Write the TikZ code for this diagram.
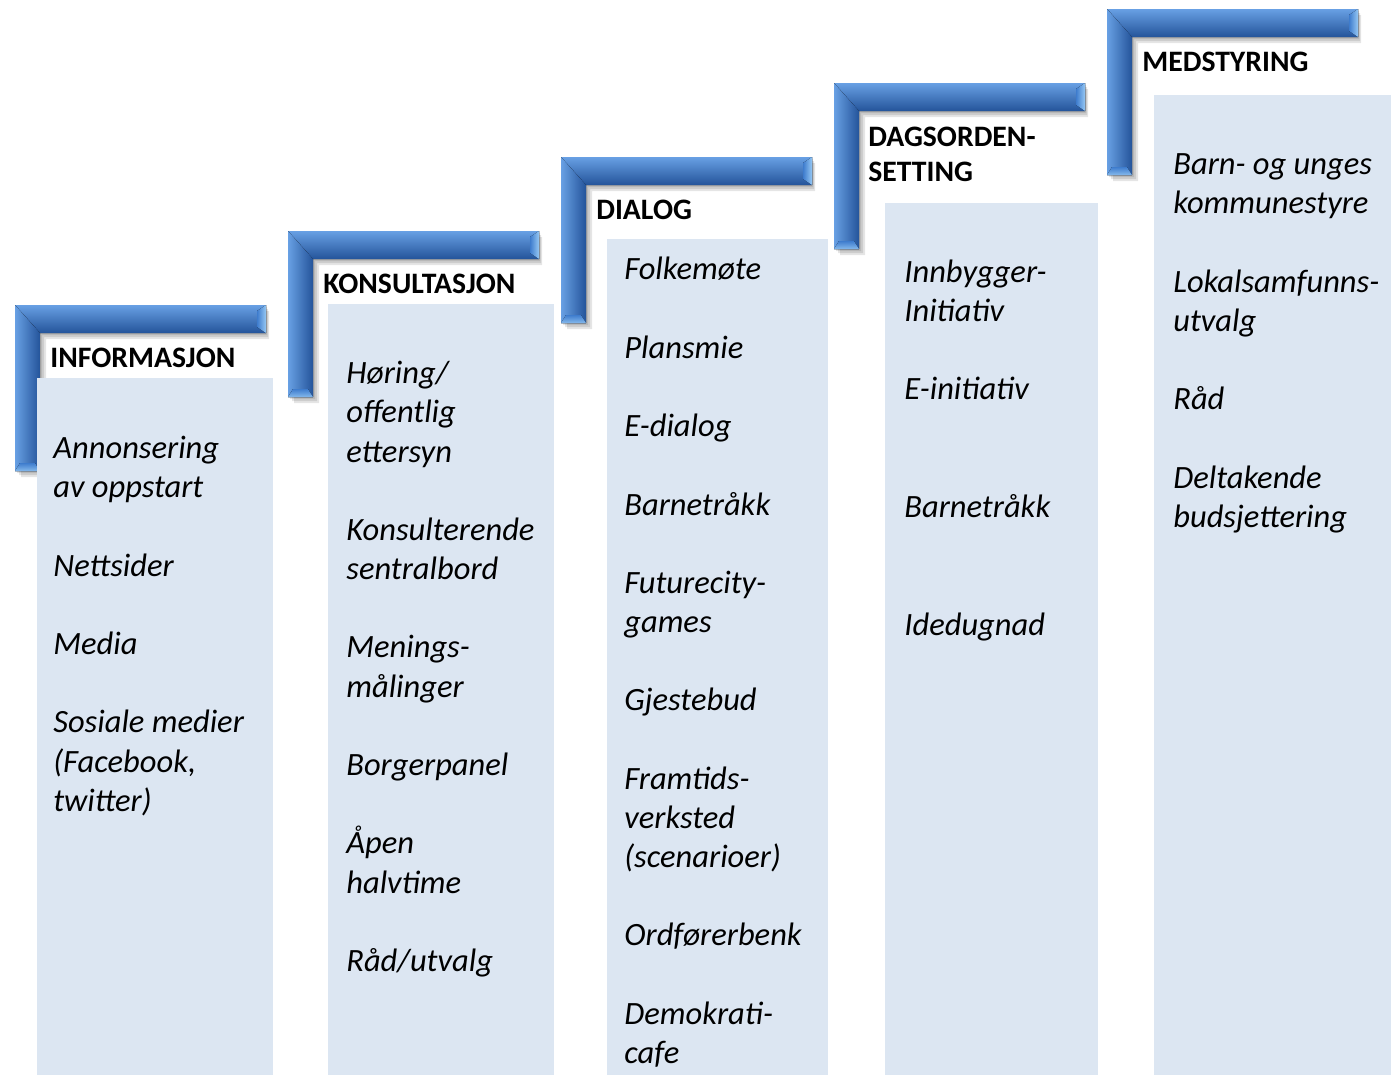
\documentclass[tikz,border=0pt]{standalone}
\usepackage{fontspec}
\setmainfont{Carlito}
\usetikzlibrary{positioning}

\definecolor{boxblue}{RGB}{220,230,242}
\definecolor{barlight}{RGB}{104,160,228}
\definecolor{barmid}{RGB}{62,124,205}
\definecolor{bardark}{RGB}{36,84,154}
\definecolor{barend}{RGB}{150,200,244}

\begin{document}
\begin{tikzpicture}[
        x=0.02cm, y=-0.02cm,
        every node/.style={inner sep=0pt, anchor=north west, align=left},
        heading/.style={font=\fontsize{16.9}{20}\selectfont\bfseries, execute at begin node=\rule{0pt}{14pt}},
        entry/.style={font=\fontsize{18.5}{22.3}\selectfont\itshape, execute at begin node=\rule{0pt}{15pt}},
        column/.style={fill=boxblue}
    ]
    \useasboundingbox[fill=white] (0,0) rectangle (1391,1075);

    % Brackets
    \foreach \i in {0,...,4}{
        \pgfmathsetmacro{\bx}{15+273*\i}
        \pgfmathsetmacro{\by}{305-74*\i}
        % shadow
        \foreach \s in {2,4,6}{
            \fill[black, opacity=.1] ({\bx+\s},{\by+\s}) -- ({\bx+251+\s/2},{\by+\s}) -- ({\bx+251+\s/2},{\by+28+\s}) -- ({\bx+25+\s},{\by+28+\s}) -- ({\bx+25+\s},{\by+166+\s}) -- ({\bx+\s},{\by+166+\s}) -- cycle;
        }
        % horizontal arm
        \fill[top color=barlight, middle color=barmid, bottom color=bardark] (\bx,\by) -- ({\bx+251},\by) -- ({\bx+251},{\by+28}) -- ({\bx+25},{\by+28}) -- cycle;
        % vertical arm
        \fill[left color=barlight, middle color=barmid, right color=bardark] (\bx,\by) -- ({\bx+25},{\by+28}) -- ({\bx+25},{\by+166}) -- (\bx,{\by+166}) -- cycle;
        % bevelled ends
        \fill[left color=barmid, right color=barend] ({\bx+242},{\by+6}) -- ({\bx+251},\by) -- ({\bx+251},{\by+28}) -- ({\bx+242},{\by+22}) -- cycle;
        \fill[top color=barmid, bottom color=barend!80!barmid] ({\bx+5},{\by+158}) -- ({\bx+20},{\by+158}) -- ({\bx+25},{\by+166}) -- (\bx,{\by+166}) -- cycle;
    }

    % Columns
    \fill[column] (37,378) rectangle (273,1075);
    \fill[column] (328,304) rectangle (554,1075);
    \fill[column] (607,239) rectangle (828,1075);
    \fill[column] (885,203) rectangle (1098,1075);
    \fill[column] (1154,95) rectangle (1391,1075);

    % Headings
    \node[heading] (info) at (50,343) {INFORMASJON};
    \node[heading] (kons) at (323,269) {KONSULTASJON};
    \node[heading] (dial) at (596,195) {DIALOG};
    \node[heading] (dags) at (868,127) {DAGSORDEN-\\SETTING};
    \node[heading] (meds) at (1142,47) {MEDSTYRING};

    % Entries
    \node[entry] (infolist) at (53,436) {Annonsering\\av oppstart\\~\\Nettsider\\~\\Media\\~\\Sosiale medier\\(Facebook,\\twitter)};
    \node[entry] (konslist) at (346,361) {Høring/\\offentlig\\ettersyn\\~\\Konsulterende\\sentralbord\\~\\Menings-\\målinger\\~\\Borgerpanel\\~\\Åpen\\halvtime\\~\\Råd/utvalg};
    \node[entry] (diallist) at (624,257) {Folkemøte\\~\\Plansmie\\~\\E-dialog\\~\\Barnetråkk\\~\\Futurecity-\\games\\~\\Gjestebud\\~\\Framtids-\\verksted\\(scenarioer)\\~\\Ordførerbenk\\~\\Demokrati-\\cafe};
    \node[entry] (dagslist) at (904,259.5) {Innbygger-\\Initiativ\\~\\E-initiativ\\~\\~\\Barnetråkk\\~\\~\\Idedugnad};
    \node[entry] (medslist) at (1173,153.5) {Barn- og unges\\kommunestyre\\~\\Lokalsamfunns-\\utvalg\\~\\Råd\\~\\Deltakende\\budsjettering};

\end{tikzpicture}
\end{document}
